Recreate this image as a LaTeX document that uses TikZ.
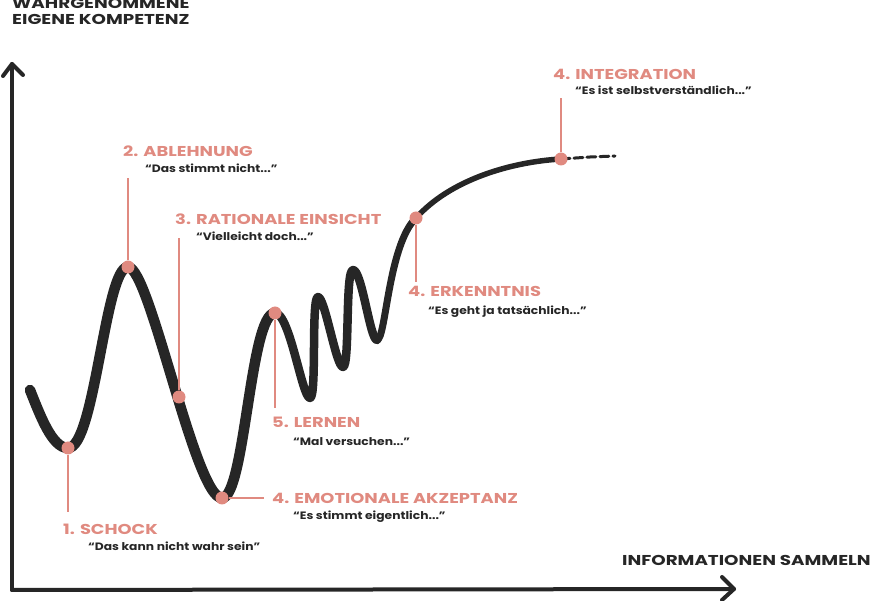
\documentclass[tikz,border=0pt]{standalone}
\usepackage{fontspec}
\newfontfamily\headfont[FakeStretch=1.25]{Poppins}
\newfontfamily\quotefont[FakeStretch=1.15]{Poppins}
\newfontfamily\axfont[FakeStretch=1.28]{Poppins}
\definecolor{pinkc}{HTML}{E08A80}
\definecolor{inkc}{HTML}{262626}
\begin{document}
\begin{tikzpicture}[x=1pt,y=-1pt,
  curve/.style={draw=inkc,line cap=round,line join=round},
  dot/.style={circle,fill=pinkc,inner sep=0pt,minimum size=13pt},
  lead/.style={draw=pinkc,line width=1.3pt},
  head/.style={anchor=base west,inner sep=0pt,text=pinkc,font=\headfont\bfseries\fontsize{14.3}{16}\selectfont},
  quote/.style={anchor=base west,inner sep=0pt,text=inkc,font=\quotefont\bfseries\fontsize{10.7}{12}\selectfont},
  axislabel/.style={anchor=base west,inner sep=0pt,text=inkc,font=\axfont\bfseries\fontsize{14.3}{16}\selectfont},
  axisline/.style={draw=inkc,line width=4pt,line cap=round,line join=round}]
\useasboundingbox (0,0) rectangle (871,601);

% axes
\coordinate (origin) at (12,590);
\coordinate (ytop) at (12,64);
\coordinate (xend) at (734,589);
\draw[axisline] (origin) -- (ytop);
\draw[axisline] (3,76) -- (ytop) -- (23,75);
\draw[axisline] (origin) -- (xend);
\draw[axisline] (722,577) -- (xend) -- (722,600);

% curve
\draw[curve,line width=10.5pt] (30,390) .. controls (40,415) and (52,448) .. (68,448)
  .. controls (95,448) and (105,267) .. (128,267)
  .. controls (150,267) and (195,498) .. (222,498)
  .. controls (245,498) and (250,313) .. (275,313);
\draw[curve,line width=8.5pt] (275,313) .. controls (290,313) and (302,398) .. (310,398)
  .. controls (317,398) and (311,297) .. (318,297)
  .. controls (325,297) and (336,367) .. (343,367)
  .. controls (350,367) and (345,270) .. (353,270)
  .. controls (362,270) and (370,340) .. (377,340);
\draw[curve,line width=7pt] (377,340) .. controls (386,340) and (388,245) .. (416,218);
\draw[curve,line width=5.5pt] (416,218) .. controls (450,180) and (510,162) .. (561,159);
\draw[curve,line width=3pt,dash pattern=on 9pt off 4pt] (561,159) -- (590,157) -- (615,156);

% dots
\node[dot] (d1) at (68,448) {};
\node[dot] (d2) at (128,267) {};
\node[dot] (d3) at (179,397) {};
\node[dot] (d4) at (222,498) {};
\node[dot] (d5) at (275,313) {};
\node[dot] (d6) at (416,218) {};
\node[dot] (d7) at (561,159) {};

% leader lines
\coordinate (l1) at (68,512);
\coordinate (l2) at (128,178);
\coordinate (l3) at (179,238);
\coordinate (l4) at (264,498);
\coordinate (l5) at (275,408);
\coordinate (l6) at (416,282);
\coordinate (l7) at (561,98);
\draw[lead] (d1) -- (l1);
\draw[lead] (d2) -- (l2);
\draw[lead] (d3) -- (l3);
\draw[lead] (d4) -- (l4);
\draw[lead] (d5) -- (l5);
\draw[lead] (d6) -- (l6);
\draw[lead] (d7) -- (l7);

% labels
\node[head] (h1) at (63,535) {1. SCHOCK};
\node[quote] (q1) at (88,551) {“Das kann nicht wahr sein”};
\node[head] (h2) at (123,157) {2. ABLEHNUNG};
\node[quote] (q2) at (145,173) {“Das stimmt nicht...”};
\node[head] (h3) at (175,225) {3. RATIONALE EINSICHT};
\node[quote] (q3) at (196,241) {“Vielleicht doch...”};
\node[head] (h4) at (272,504) {4. EMOTIONALE AKZEPTANZ};
\node[quote] (q4) at (293,520) {“Es stimmt eigentlich...”};
\node[head] (h5) at (272,428) {5. LERNEN};
\node[quote] (q5) at (293,446) {“Mal versuchen...”};
\node[head] (h6) at (408,297) {4. ERKENNTNIS};
\node[quote] (q6) at (428,315) {“Es geht ja tatsächlich...”};
\node[head] (h7) at (553,80) {4. INTEGRATION};
\node[quote] (q7) at (575,95) {“Es ist selbstverständlich...”};

\node[axislabel] (ya1) at (12,9) {WAHRGENOMMENE};
\node[axislabel] (ya2) at (12,25) {EIGENE KOMPETENZ};
\node[axislabel] (xa) at (622,566) {INFORMATIONEN SAMMELN};
\end{tikzpicture}
\end{document}
